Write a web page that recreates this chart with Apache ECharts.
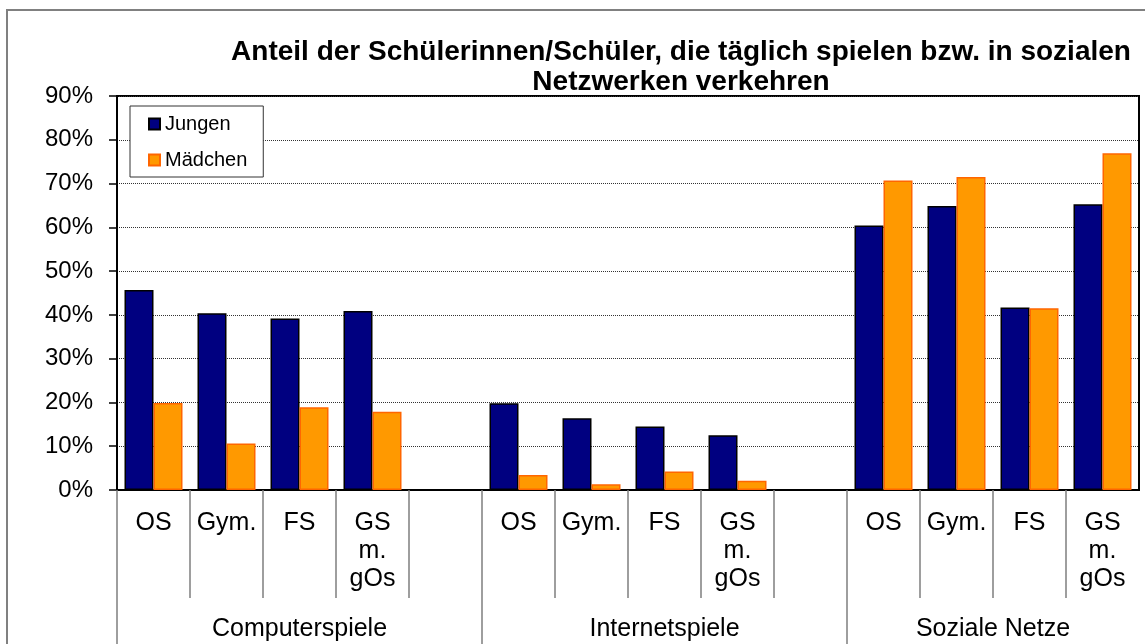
<!DOCTYPE html>
<html>
<head>
<meta charset="utf-8">
<script src="https://cdn.jsdelivr.net/npm/echarts@6/dist/echarts.min.js"></script>
<style>
  html, body { margin: 0; padding: 0; background: #fff; }
  #chart { width: 1145px; height: 644px; }
</style>
</head>
<body>
<div id="chart"></div>
<script>
// Kategorien (leere Spalten wie im Original)
const categories = ['OS', 'Gym.', 'FS', 'GS\nm.\ngOs', '',
                    'OS', 'Gym.', 'FS', 'GS\nm.\ngOs', '',
                    'OS', 'Gym.', 'FS', 'GS\nm.\ngOs'];
const groupNames = ['Computerspiele', 'Internetspiele', 'Soziale Netze'];
const groupSizes = [5, 5, 4];

// Anteile in %
const jungen   = [45.7, 40.4, 39.2, 40.9, null, 19.8, 16.4, 14.5, 12.5, null, 60.4, 64.9, 41.7, 65.3];
const maedchen = [19.9, 10.6, 18.9, 17.9, null, 3.4, 1.3, 4.2, 2.1, null, 70.7, 71.5, 41.5, 76.9];

const titleText = 'Anteil der Schülerinnen/Schüler, die täglich spielen bzw. in sozialen\nNetzwerken verkehren';
const font = "'Liberation Sans', Arial, sans-serif";

// Gruppengrenzen und -mitten aus den Gruppengrößen
const groupBounds = [0];
groupSizes.forEach(s => groupBounds.push(groupBounds[groupBounds.length - 1] + s));
const groupCenters = groupSizes.map((s, i) => groupBounds[i] + s / 2);
// innere Trennstriche zwischen den Schularten
const innerBounds = [];
for (let i = 1; i < categories.length; i++) {
  if (groupBounds.indexOf(i) < 0) innerBounds.push(i);
}

var myChart = echarts.init(document.getElementById('chart'));
var option;

option = {
  backgroundColor: '#fff',
  animation: false,
  textStyle: { fontFamily: font },
  graphic: [{
    type: 'rect',
    z: -10,
    shape: { x: 7, y: 10, width: 1160, height: 660 },
    style: { fill: 'none', stroke: '#808080', lineWidth: 2 }
  }],
  title: {
    text: titleText,
    left: 681,
    top: 37,
    padding: 0,
    textAlign: 'center',
    textStyle: {
      fontFamily: font,
      fontSize: 28,
      fontWeight: 'bold',
      color: '#000',
      lineHeight: 30
    }
  },
  legend: {
    orient: 'vertical',
    left: 130,
    top: 106,
    padding: [8, 16, 7, 18],
    itemGap: 16,
    itemWidth: 11,
    itemHeight: 11,
    icon: 'rect',
    borderColor: '#333',
    borderWidth: 1,
    backgroundColor: '#fff',
    textStyle: { fontFamily: font, fontSize: 20, color: '#000' },
    data: ['Jungen', 'Mädchen']
  },
  grid: {
    left: 117,
    top: 96,
    right: 6,
    bottom: 154,
    show: true,
    borderColor: '#000',
    borderWidth: 2,
    containLabel: false
  },
  xAxis: [
    {
      type: 'category',
      data: categories,
      position: 'bottom',
      axisLine: { lineStyle: { color: '#000', width: 2 } },
      axisTick: { show: false },
      axisLabel: {
        interval: 0,
        margin: 19,
        fontFamily: font,
        fontSize: 25,
        lineHeight: 28,
        color: '#000',
        verticalAlign: 'top'
      },
      splitLine: { show: false }
    },
    {
      type: 'value',
      position: 'bottom',
      min: 0,
      max: categories.length,
      axisLine: { show: false },
      splitLine: { show: false },
      axisTick: {
        show: true,
        length: 160,
        customValues: groupBounds.slice(0, groupBounds.length - 1),
        lineStyle: { color: '#7f7f7f', width: 1.5 }
      },
      axisLabel: {
        customValues: groupCenters,
        margin: 125,
        fontFamily: font,
        fontSize: 25,
        lineHeight: 28,
        color: '#000',
        verticalAlign: 'top',
        formatter: function (v) {
          const i = groupCenters.findIndex(c => Math.abs(c - v) < 1e-6);
          return i >= 0 ? groupNames[i] : '';
        }
      }
    },
    {
      type: 'value',
      position: 'bottom',
      min: 0,
      max: categories.length,
      axisLine: { show: false },
      splitLine: { show: false },
      axisLabel: { show: false },
      axisTick: {
        show: true,
        length: 108,
        customValues: innerBounds,
        lineStyle: { color: '#7f7f7f', width: 1.5 }
      }
    }
  ],
  yAxis: {
    type: 'value',
    min: 0,
    max: 90,
    interval: 10,
    axisLine: { show: true, lineStyle: { color: '#000', width: 2 } },
    axisTick: { show: true, length: 8, lineStyle: { color: '#000', width: 1.5 } },
    axisLabel: {
      formatter: '{value}%',
      margin: 24,
      fontFamily: font,
      fontSize: 24,
      color: '#000'
    },
    splitLine: { show: true, lineStyle: { color: '#333', width: 1, type: [1, 1] } }
  },
  series: [
    {
      name: 'Jungen',
      type: 'bar',
      xAxisIndex: 0,
      barWidth: 29,
      barGap: '0%',
      data: jungen,
      itemStyle: { color: '#000080', borderColor: '#000', borderWidth: 1.5 }
    },
    {
      name: 'Mädchen',
      type: 'bar',
      xAxisIndex: 0,
      barWidth: 29,
      barGap: '0%',
      data: maedchen,
      itemStyle: { color: '#FF9900', borderColor: '#FF6600', borderWidth: 1.5 }
    }
  ]
};

option && myChart.setOption(option);
</script>
</body>
</html>
